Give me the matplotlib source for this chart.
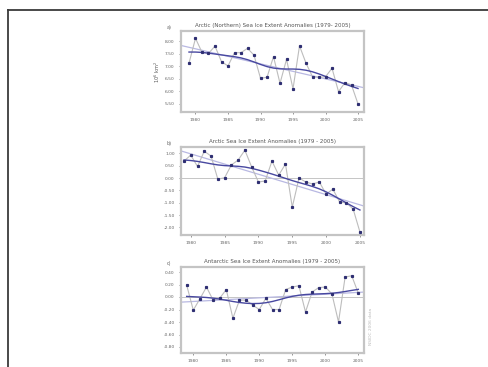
import numpy as np
import matplotlib
matplotlib.use("Agg")
import matplotlib.pyplot as plt
from matplotlib.lines import Line2D

years = np.arange(1979, 2006)

# a) september extent, 10^6 km^2
arctic_sep = [7.12, 8.11, 7.55, 7.51, 7.80, 7.18, 7.01, 7.54, 7.54, 7.71,
              7.44, 6.52, 6.56, 7.38, 6.32, 7.27, 6.10, 7.81, 7.12, 6.58,
              6.56, 6.58, 6.92, 5.99, 6.35, 6.25, 5.50]
# b) arctic anomalies
arctic_anom = [0.69, 0.93, 0.47, 1.09, 0.89, -0.04, 0.01, 0.53, 0.73, 1.13,
               0.45, -0.16, -0.12, 0.69, 0.12, 0.57, -1.18, 0.00, -0.16, -0.24,
               -0.16, -0.65, -0.45, -0.97, -1.01, -1.26, -2.19]
# c) antarctic anomalies
antarctic_anom = [0.19, -0.21, -0.03, 0.16, -0.05, -0.02, 0.12, -0.34, -0.05, -0.05,
                  -0.13, -0.20, -0.02, -0.20, -0.20, 0.12, 0.16, 0.18, -0.24, 0.08,
                  0.15, 0.16, 0.05, -0.40, 0.32, 0.34, 0.06]

titles = ["Arctic (Northern) Sea Ice Extent Anomalies (1979- 2005)",
          "Arctic Sea Ice Extent Anomalies (1979 - 2005)",
          "Antarctic Sea Ice Extent Anomalies (1979 - 2005)"]
panel_letters = ["a)", "b)", "c)"]
xticks = [1980, 1985, 1990, 1995, 2000, 2005]
yticks1 = [8.0, 7.5, 7.0, 6.5, 6.0, 5.5]
yticks2 = [1.0, 0.5, 0.0, -0.5, -1.0, -1.5, -2.0]
yticks3 = [0.4, 0.2, 0.0, -0.2, -0.4, -0.6, -0.8]


def smooth(y, width=2.6):
    # gaussian weighted running mean, edges renormalised
    y = np.asarray(y)
    n = len(y)
    out = np.zeros(n)
    idx = np.arange(n)
    for i in range(n):
        w = np.exp(-0.5 * ((idx - i) / width) ** 2)
        out[i] = np.sum(w * y) / np.sum(w)
    return out


fig = plt.figure(figsize=(4.89, 3.67), dpi=100)
W, H = 489.0, 367.0

# outer frame of the screenshot
fig.add_artist(Line2D([8 / W, 8 / W], [0, 1 - 10 / H], color="#3a3a3a", lw=1.3))
fig.add_artist(Line2D([8 / W, 1], [1 - 10 / H, 1 - 10 / H], color="#3a3a3a", lw=1.3))

panels = [
    (arctic_sep, yticks1, (31, 112), (1977.77, 2005.92), (5.18, 8.40), False),
    (arctic_anom, yticks2, (147, 235), (1978.56, 2005.6), (-2.31, 1.26), True),
    (antarctic_anom, yticks3, (267, 353), (1978.14, 2005.86), (-0.896, 0.48), True),
]

grey_txt = "#666666"
for k, (vals, yt, (top, bot), xl, yl, zero) in enumerate(panels):
    ax = fig.add_axes([181 / W, 1 - bot / H, (364 - 181) / W, (bot - top) / H])
    ax.set_xlim(*xl)
    ax.set_ylim(*yl)
    if zero:
        ax.axhline(0, color="#bcbcbc", lw=0.6, zorder=1)
    # linear trend
    p = np.polyfit(years, vals, 1)
    xx = np.array(xl)
    ax.plot(xx, np.polyval(p, xx), color="#b8b8e2", lw=0.9, zorder=2)
    # yearly values
    ax.plot(years, vals, color="#bdbdbd", lw=0.8, zorder=3)
    ax.plot(years, vals, ls="none", marker="s", ms=1.3, color="#2e2e72", zorder=5)
    # smoothed curve
    ax.plot(years, smooth(vals), color="#4848a0", lw=1.0, zorder=4)

    ax.set_xticks(xticks)
    ax.set_xticklabels([str(v) for v in xticks])
    ax.set_yticks(yt)
    ax.set_yticklabels(["%.2f" % v for v in yt])
    ax.tick_params(labelsize=3.2, colors=grey_txt, length=1.5, width=0.5, pad=3)
    for s in ax.spines.values():
        s.set_color("#c4c4c4")
        s.set_linewidth(1.6)
    ax.set_title(titles[k], fontsize=4.0, color="#555555", pad=3)
    fig.text(169 / W, 1 - (top - 4) / H, panel_letters[k], fontsize=3.5,
             color=grey_txt, ha="center", va="center")
    if k == 0:
        ax.set_ylabel("10$^6$ km$^2$", fontsize=3.6, color="#555555", labelpad=2)

fig.text(371 / W, 1 - 326 / H, "NSIDC 2006 data", rotation=90, fontsize=3.2,
         color="#bbbbbb", ha="center", va="center")

fig.savefig("out.png", dpi=100)
